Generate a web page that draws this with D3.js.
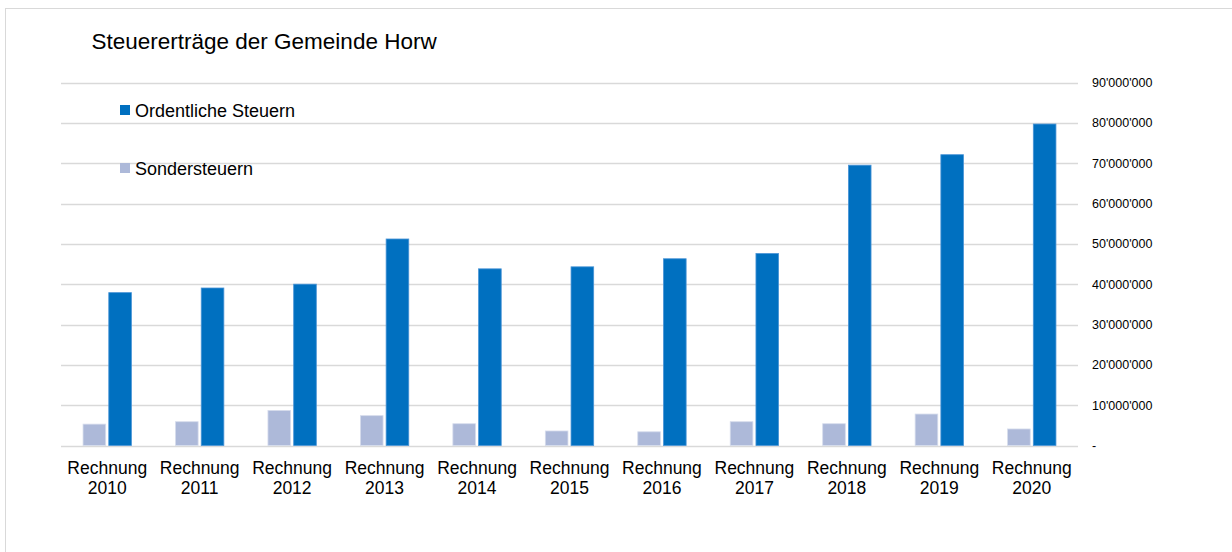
<!DOCTYPE html>
<html>
<head>
<meta charset="utf-8">
<script src="https://cdn.jsdelivr.net/npm/d3@7"></script>
<style>
  body { margin: 0; background: #fff; }
  svg { display: block; font-family: "Liberation Sans", Arial, sans-serif; }
</style>
</head>
<body>
<script>
// data
var years = ["2010", "2011", "2012", "2013", "2014", "2015", "2016", "2017", "2018", "2019", "2020"];
var ordentliche = [37900000, 39050000, 40000000, 51200000, 43800000, 44300000, 46300000, 47600000, 69500000, 72100000, 79700000];
var sonder = [5300000, 5900000, 8700000, 7400000, 5400000, 3600000, 3400000, 5900000, 5400000, 7800000, 4100000];
var yTicks = [0, 10000000, 20000000, 30000000, 40000000, 50000000, 60000000, 70000000, 80000000, 90000000];
var seriesNames = ["Sondersteuern", "Ordentliche Steuern"];
var seriesColors = ["#adb9d9", "#0070c0"];

var width = 1232, height = 552;
var margin = { top: 82.5, right: 154, bottom: 106.5, left: 61 };

var svg = d3.select("body")
    .append("svg")
    .attr("width", width)
    .attr("height", height);

// outer chart frame
svg.append("rect")
    .attr("x", 5.5).attr("y", 8.5)
    .attr("width", width + 20).attr("height", height + 20)
    .attr("fill", "none")
    .attr("stroke", "#d9d9d9");

var x0 = d3.scaleBand()
    .domain(years)
    .range([margin.left, width - margin.right])
    .paddingInner(0.477)
    .paddingOuter(0.2385);

var x1 = d3.scaleBand()
    .domain(seriesNames)
    .range([0, x0.bandwidth()])
    .paddingInner(0.12);

var y = d3.scaleLinear()
    .domain([0, 90000000])
    .range([height - margin.bottom, margin.top]);

// gridlines
svg.append("g")
    .selectAll("line")
    .data(yTicks)
    .join("line")
    .attr("x1", margin.left)
    .attr("x2", width - margin.right)
    .attr("y1", d => Math.round(y(d)) + 0.5)
    .attr("y2", d => Math.round(y(d)) + 0.5)
    .attr("stroke", "#d9d9d9")
    .attr("stroke-width", 1.3);

// right axis labels
function fmt(v) {
    if (v === 0) return "-";
    return d3.format(",")(v).replace(/,/g, "'");
}
var yAxis = d3.axisRight(y)
    .tickValues(yTicks)
    .tickFormat(fmt)
    .tickSize(0)
    .tickPadding(0);

svg.append("g")
    .attr("transform", "translate(" + (width - margin.right + 14) + ",0)")
    .call(yAxis)
    .call(g => g.select(".domain").remove())
    .selectAll("text")
    .attr("fill", "#000")
    .style("font-size", "12.5px")
    .style("font-family", "'Liberation Sans', Arial, sans-serif");

// bars
var rows = years.map((yr, i) => ({ year: yr, values: [sonder[i], ordentliche[i]] }));

var groups = svg.append("g")
    .selectAll("g")
    .data(rows)
    .join("g")
    .attr("transform", d => "translate(" + x0(d.year) + ",0)");

groups.selectAll("rect")
    .data(d => d.values.map((v, k) => ({ key: seriesNames[k], value: v, k: k })))
    .join("rect")
    .attr("x", d => x1(d.key))
    .attr("width", x1.bandwidth())
    .attr("y", d => y(d.value))
    .attr("height", d => y(0) - y(d.value))
    .attr("fill", d => seriesColors[d.k])
    .attr("stroke", d => d.k === 1 ? "#4a94d6" : "#d6dcec")
    .attr("stroke-width", 0.8);

// x labels
var xl = svg.append("g")
    .selectAll("text")
    .data(years)
    .join("text")
    .attr("x", d => x0(d) + x0.bandwidth() / 2)
    .attr("text-anchor", "middle")
    .style("font-size", "17.5px")
    .attr("fill", "#000");
xl.append("tspan").attr("x", d => x0(d) + x0.bandwidth() / 2).attr("y", 474).text("Rechnung");
xl.append("tspan").attr("x", d => x0(d) + x0.bandwidth() / 2).attr("y", 493.5).text(d => d);

// title
svg.append("text")
    .attr("x", 91.5)
    .attr("y", 49)
    .style("font-size", "22.5px")
    .attr("fill", "#000")
    .text("Steuererträge der Gemeinde Horw");

// legend
var legend = [
    { name: "Ordentliche Steuern", color: seriesColors[1], y: 105 },
    { name: "Sondersteuern", color: seriesColors[0], y: 163 }
];
var lg = svg.append("g")
    .selectAll("g")
    .data(legend)
    .join("g");
lg.append("rect")
    .attr("x", 120).attr("y", d => d.y)
    .attr("width", 10).attr("height", 10)
    .attr("fill", d => d.color);
lg.append("text")
    .attr("x", 135)
    .attr("y", d => d.y + 11.5)
    .style("font-size", "18px")
    .attr("fill", "#000")
    .text(d => d.name);
</script>
</body>
</html>
